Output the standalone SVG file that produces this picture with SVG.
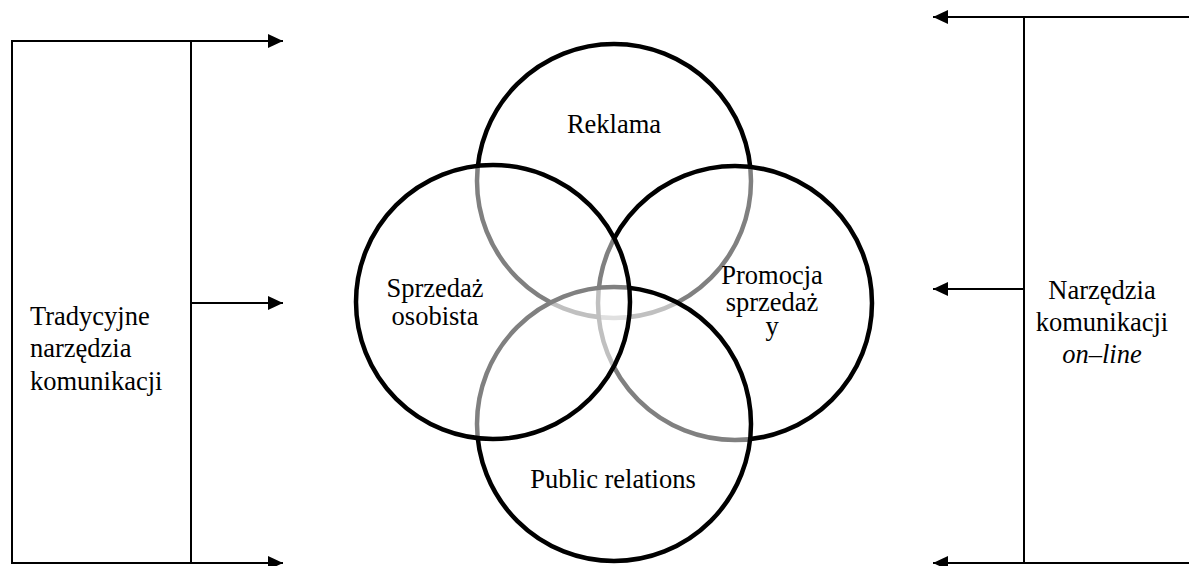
<svg xmlns="http://www.w3.org/2000/svg" width="1189" height="566" viewBox="0 0 1189 566">
  <style>
    .frame { fill: none; stroke: #000; stroke-width: 2; }
    .link { fill: none; stroke: #000; stroke-width: 2; marker-end: url(#arrow); }
    .ring { fill: #fff; fill-opacity: 0.5; stroke: #000; stroke-width: 4.5; }
    text { font-family: 'Liberation Serif', 'Times New Roman', serif; font-size: 26.5px; fill: #000; }
    .mid { text-anchor: middle; }
  </style>
  <defs>
    <marker id="arrow" markerUnits="userSpaceOnUse" markerWidth="16" markerHeight="14" refX="15" refY="7" orient="auto">
      <path d="M0 0 L15 7 L0 14 Z" fill="#000"/>
    </marker>
  </defs>

  <rect width="1189" height="566" fill="#fff"/>

  <!-- left frame: traditional tools -->
  <g id="traditional-tools">
    <rect class="frame" x="12" y="41" width="179" height="522"/>
    <text x="30" y="325">Tradycyjne</text>
    <text x="30" y="357">narzędzia</text>
    <text x="30" y="390">komunikacji</text>
  </g>

  <!-- right frame: online tools -->
  <g id="online-tools">
    <path class="frame" d="M1189 17 H1024 V563 H1189"/>
    <text class="mid" x="1102" y="299">Narzędzia</text>
    <text class="mid" x="1102" y="331">komunikacji</text>
    <text class="mid" x="1102" y="363" font-style="italic">on–line</text>
  </g>

  <!-- overlapping circles, drawn back to front -->
  <g id="reklama">
    <circle class="ring" cx="614" cy="181" r="137"/>
  </g>
  <g id="promocja-sprzedazy">
    <circle class="ring" cx="735" cy="303" r="137"/>
  </g>
  <g id="public-relations">
    <circle class="ring" cx="614" cy="424" r="137"/>
  </g>
  <g id="sprzedaz-osobista">
    <circle class="ring" cx="493" cy="302" r="137"/>
  </g>

  <!-- circle labels on top -->
  <g id="circle-labels">
    <text class="mid" x="614" y="133">Reklama</text>
    <text class="mid" x="435" y="297">Sprzedaż</text>
    <text class="mid" x="435" y="325">osobista</text>
    <text class="mid" x="772" y="284">Promocja</text>
    <text class="mid" x="772" y="311">sprzedaż</text>
    <text class="mid" x="772" y="335">y</text>
    <text class="mid" x="613" y="488">Public relations</text>
  </g>

  <!-- arrows -->
  <g id="connectors">
    <line class="link" x1="191" y1="41" x2="283" y2="41"/>
    <line class="link" x1="191" y1="303" x2="283" y2="303"/>
    <line class="link" x1="191" y1="563" x2="283" y2="563"/>
    <line class="link" x1="1024" y1="17" x2="933" y2="17"/>
    <line class="link" x1="1024" y1="289" x2="933" y2="289"/>
    <line class="link" x1="1024" y1="563" x2="933" y2="563"/>
  </g>
</svg>
